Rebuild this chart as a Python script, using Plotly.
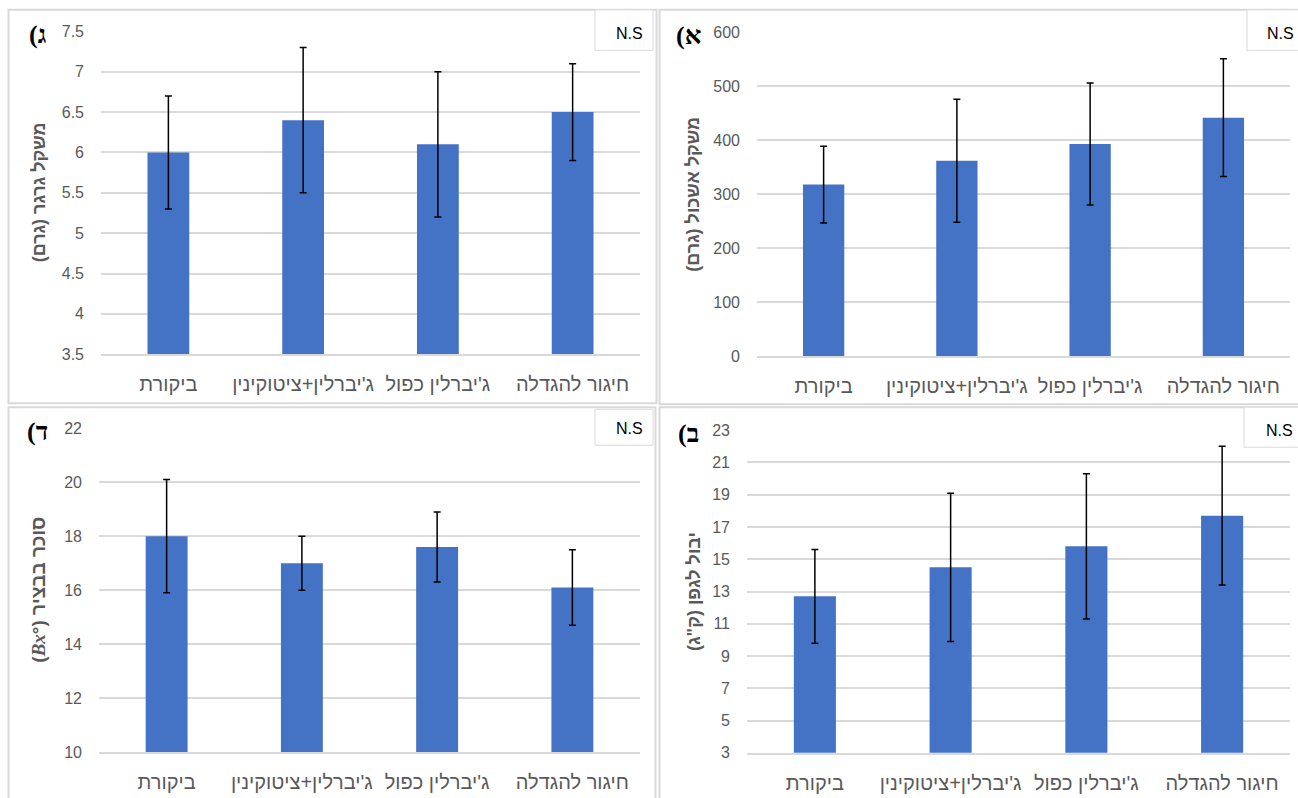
import plotly.graph_objects as go

W, H = 1298, 798

categories = ["ביקורת", "ג'יברלין+ציטוקינין", "ג'יברלין כפול", "חיגור להגדלה"]

# Panel ג - grain weight (g)
grain_weight = [6.0, 6.4, 6.1, 6.5]
grain_weight_err = [0.7, 0.9, 0.9, 0.6]
# Panel א - cluster weight (g)
cluster_weight = [318, 362, 393, 442]
cluster_weight_err = [71, 114, 113, 109]
# Panel ד - sugar at harvest (Bx)
sugar = [18.0, 17.0, 17.6, 16.1]
sugar_err = [2.1, 1.0, 1.3, 1.4]
# Panel ב - yield per vine (kg)
yield_vine = [12.7, 14.5, 15.8, 17.7]
yield_vine_err = [2.9, 4.6, 4.5, 4.3]

RLM = "\u200f"
panels = [
    dict(v=grain_weight, e=grain_weight_err, rng=[3.5, 7.5], dt=0.5,
         title="משקל גרגר (גרם)" + RLM, label="(ג", tsize=18,
         box=(101, 640, 31, 354), frame=(8.5, 656.5, 9.5, 403)),
    dict(v=cluster_weight, e=cluster_weight_err, rng=[0, 600], dt=100,
         title="משקל אשכול (גרם)" + RLM, label="(א", tsize=18,
         box=(757, 1290, 32, 356), frame=(659.5, 1302, 9.5, 404)),
    dict(v=sugar, e=sugar_err, rng=[10, 22], dt=2,
         title="(<span style='font-family:Liberation Serif, DejaVu Serif'><i>Bx</i></span>°) סוכר בבציר",
         label="(ד", tsize=19,
         box=(99, 640, 428, 752), frame=(8.5, 655.5, 407, 815)),
    dict(v=yield_vine, e=yield_vine_err, rng=[3, 23], dt=2,
         title='יבול לגפן (ק"ג)' + RLM, label="(ב", tsize=18,
         box=(747, 1290, 430, 752.7), frame=(659.5, 1302, 407, 815)),
]

ns_boxes = [
    (595, 653, 9.5, 50, 629, 33),
    (1247, 1302, 9.5, 50, 1280, 33),
    (595, 653, 409, 445, 629, 428),
    (1244, 1302, 407, 447, 1279, 430),
]

# the capture compresses the page slightly in height; compensate
VS, VO = 0.979, 7.65

def px(x):
    return x / W

def py(y):
    return 1 - ((y - VO) / VS) / H

fig = go.Figure()
shapes = []
annotations = []
GRAY = "#595959"
GRID = "#d9d9d9"
FONT = "Liberation Sans, Arial, DejaVu Sans"

for i, p in enumerate(panels):
    n = "" if i == 0 else str(i + 1)
    xa, ya = "x" + n, "y" + n
    x0, x1, yt, yb = p["box"]
    fig.add_trace(go.Bar(
        x=categories, y=p["v"], xaxis=xa, yaxis=ya,
        width=0.31, marker=dict(color="#4472C4", line=dict(width=0)),
        error_y=dict(type="data", array=p["e"], visible=True,
                     color="black", thickness=1.5, width=3.5),
        showlegend=False, hoverinfo="x+y",
    ))
    fig.layout["xaxis" + n] = dict(
        domain=[px(x0), px(x1)], anchor=ya, type="category",
        showgrid=False, showline=True, linecolor=GRID, linewidth=1.5,
        ticks="", tickfont=dict(size=20, color=GRAY, family=FONT),
        ticklabelstandoff=11, fixedrange=True,
    )
    fig.layout["yaxis" + n] = dict(
        domain=[py(yb), py(yt)], anchor=xa, range=p["rng"], dtick=p["dt"],
        tick0=p["rng"][0], showgrid=True, gridcolor=GRID, gridwidth=1.5,
        zeroline=False, showline=False, ticks="",
        tickfont=dict(size=16, color=GRAY, family=FONT),
        ticklabelstandoff=16, fixedrange=True,
    )
    fx0, fx1, fy0, fy1 = p["frame"]
    shapes.append(dict(type="rect", xref="paper", yref="paper",
                       x0=px(fx0), x1=px(fx1), y0=py(fy1), y1=py(fy0),
                       line=dict(color=GRID, width=2), layer="below"))
    annotations.append(dict(
        text="<b>" + p["title"] + "</b>", textangle=-90,
        xref="paper", yref="paper", x=px(fx0 + 30) if i % 2 == 0 else px(fx0 + 34),
        y=py((yt + yb) / 2), showarrow=False, xanchor="center", yanchor="middle",
        font=dict(size=p["tsize"], color=GRAY, family=FONT),
    ))
    annotations.append(dict(
        text="<b>" + p["label"] + "</b>", xref="paper", yref="paper",
        x=px(fx0 + 29), y=py(yt + 3), showarrow=False,
        xanchor="center", yanchor="middle",
        font=dict(size=26, color="black", family="Liberation Serif, DejaVu Serif"),
    ))

for (bx0, bx1, by0, by1, tx, ty) in ns_boxes:
    shapes.append(dict(type="rect", xref="paper", yref="paper",
                       x0=px(bx0), x1=px(bx1), y0=py(by1), y1=py(by0),
                       fillcolor="white", line=dict(color=GRID, width=1),
                       layer="above"))
    annotations.append(dict(text="N.S", xref="paper", yref="paper",
                            x=px(tx), y=py(ty), showarrow=False,
                            xanchor="center", yanchor="middle",
                            font=dict(size=16, color="black", family=FONT)))

fig.update_layout(
    width=W, height=H, margin=dict(l=0, r=0, t=0, b=0),
    paper_bgcolor="white", plot_bgcolor="white",
    shapes=shapes, annotations=annotations, showlegend=False,
)

fig.write_html(
    "out.html",
    config={"displayModeBar": False},
    post_script="document.body.style.margin='0';document.body.style.padding='0';document.body.style.overflow='hidden';",
)
